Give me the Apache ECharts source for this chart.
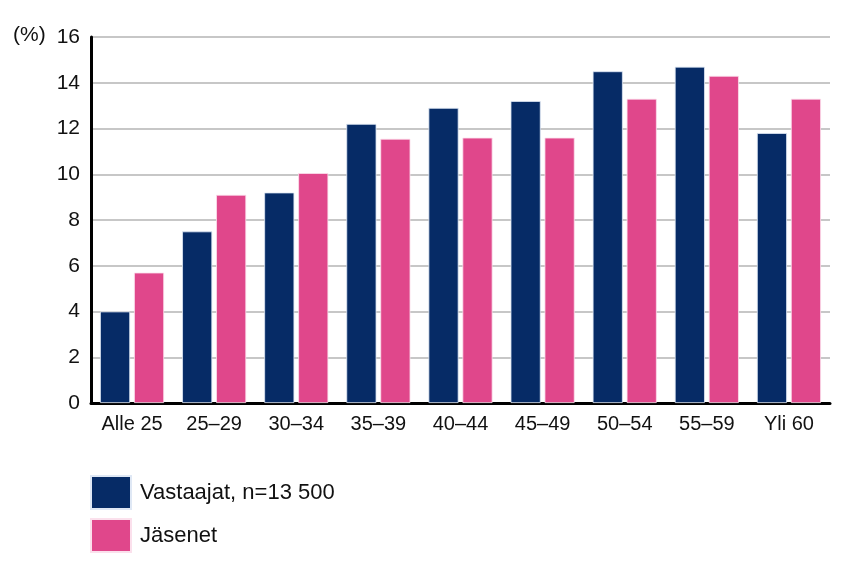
<!DOCTYPE html>
<html>
<head>
<meta charset="utf-8">
<script src="https://cdn.jsdelivr.net/npm/echarts@6/dist/echarts.min.js"></script>
<style>
html,body{margin:0;padding:0;background:#fff;}
#chart{width:855px;height:564px;}
</style>
</head>
<body>
<div id="chart"></div>
<script>
const categories = ['Alle 25', '25–29', '30–34', '35–39', '40–44', '45–49', '50–54', '55–59', 'Yli 60'];
const seriesNames = ['Vastaajat, n=13 500', 'Jäsenet'];
const vastaajat = [4.0, 7.5, 9.2, 12.2, 12.9, 13.2, 14.5, 14.7, 11.8];
const jasenet = [5.7, 9.1, 10.05, 11.55, 11.6, 11.6, 13.3, 14.3, 13.3];
const yTicks = { min: 0, max: 16, interval: 2 };
const unitLabel = '(%)';

const FONT = '"Liberation Sans", Arial, sans-serif';
const chart = echarts.init(document.getElementById('chart'), null, { renderer: 'canvas' });
chart.setOption({
  animation: false,
  backgroundColor: '#ffffff',
  grid: { left: 91, right: 25, top: 37, bottom: 161, containLabel: false },
  legend: {
    orient: 'vertical',
    left: 90,
    top: 475,
    padding: 0,
    itemWidth: 40,
    itemHeight: 33,
    itemGap: 8,
    icon: 'rect',
    textStyle: { fontFamily: FONT, fontSize: 22, color: '#111', padding: [0, 0, 0, 4] },
    data: seriesNames
  },
  graphic: [{
    type: 'text',
    left: 13,
    top: 25,
    style: { text: unitLabel, font: '21px ' + FONT, fill: '#111' }
  }],
  xAxis: {
    type: 'category',
    data: categories,
    axisLine: { lineStyle: { color: '#000', width: 3 } },
    axisTick: { show: false },
    axisLabel: { color: '#111', fontFamily: FONT, fontSize: 20, margin: 11, interval: 0 }
  },
  yAxis: {
    type: 'value',
    min: yTicks.min,
    max: yTicks.max,
    interval: yTicks.interval,
    axisLine: { show: true, lineStyle: { color: '#000', width: 3 } },
    axisTick: { show: false },
    axisLabel: { color: '#111', fontFamily: FONT, fontSize: 21, margin: 11 },
    splitLine: { lineStyle: { color: '#b5b5b5', width: 1.5 } }
  },
  series: [
    {
      name: seriesNames[0],
      type: 'bar',
      data: vastaajat,
      barGap: '13%',
      barCategoryGap: '22%',
      itemStyle: { color: '#062b66', borderColor: '#dfe8f5', borderWidth: 0.8 }
    },
    {
      name: seriesNames[1],
      type: 'bar',
      data: jasenet,
      itemStyle: { color: '#e0478b', borderColor: '#fbe0ec', borderWidth: 0.8 }
    }
  ]
});
</script>
</body>
</html>
